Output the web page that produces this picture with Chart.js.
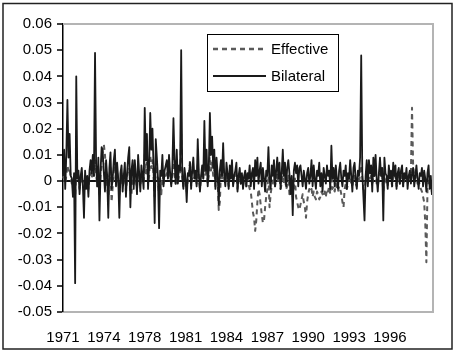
<!DOCTYPE html>
<html>
<head>
<meta charset="utf-8">
<script src="https://cdn.jsdelivr.net/npm/chart.js@4.4.1/dist/chart.umd.min.js"></script>
<style>
  html, body { margin:0; padding:0; background:#fff; }
  #wrap { width:455px; height:351px; }
</style>
</head>
<body>
<div id="wrap"><canvas id="lineChart" width="455" height="351"></canvas></div>
<script>
// monthly series, Nov 1971 onwards
const startYear = 1971
const startMonth = 11
const tickLabels = ['1971','1974','1978','1981','1984','1987','1990','1993','1996']
const tickEvery = 37

const bilateral = [
  0.002, 0.012, -0.003, 0.010, 0.031, 0.009, 0.018, 0.002, 0.001, -0.006, 0.003, -0.039,
  0.040, 0.001, 0.004, -0.005, 0.002, 0.005, -0.002, -0.014, 0.004, -0.003, 0.002, -0.006,
  0.004, 0.008, 0.003, 0.010, 0.002, 0.049, 0.006, -0.002, 0.009, -0.015, 0.004, 0.013,
  0.011, 0.003, -0.004, 0.008, 0.002, -0.014, 0.005, 0.011, -0.003, 0.001, 0.008, 0.012,
  -0.002, 0.007, 0.001, -0.014, 0.003, 0.006, -0.004, 0.002, 0.007, -0.006, 0.003, 0.009,
  0.013, -0.010, 0.004, 0.008, -0.003, 0.008, 0.002, -0.005, 0.010, 0.003, -0.004, 0.006,
  0.002, -0.003, 0.028, 0.008, 0.018, -0.003, 0.006, 0.026, 0.012, 0.020, 0.005, -0.016,
  0.016, 0.009, 0.001, -0.018, 0.004, 0.002, 0.010, -0.002, 0.004, 0.006, 0.008, 0.001,
  0.010, 0.003, -0.002, 0.005, 0.024, 0.008, -0.001, 0.012, -0.001, 0.006, 0.004, 0.050,
  0.002, -0.003, 0.005, 0.001, -0.008, 0.003, 0.002, 0.007, -0.003, 0.004, 0.009, 0.001,
  0.004, -0.002, 0.016, 0.003, -0.004, 0.002, 0.006, 0.001, 0.023, 0.004, 0.012, -0.002,
  0.005, 0.026, 0.010, 0.017, 0.005, 0.012, -0.003, 0.009, 0.003, -0.009, 0.004, 0.008,
  0.002, 0.0145, 0.002, -0.002, 0.007, 0.003, -0.003, 0.006, 0.001, 0.008, -0.002, 0.002,
  0.004, 0.007, -0.004, 0.002, 0.005, -0.001, 0.003, -0.003, 0.002, 0.004, -0.002, 0.003,
  0.001, 0.006, -0.002, 0.003, 0.005, -0.003, 0.008, 0.002, 0.009, -0.001, 0.004, 0.007,
  -0.002, 0.005, 0.001, -0.004, 0.004, 0.002, 0.013, 0.001, -0.003, 0.006, 0.002, 0.008,
  -0.002, 0.004, 0.009, 0.001, 0.007, -0.003, 0.003, 0.012, 0.002, 0.007, -0.002, 0.005,
  0.008, 0.003, -0.005, 0.002, -0.013, 0.004, 0.007, 0.003, 0.006, -0.002, 0.005, 0.006,
  0.002, -0.002, 0.004, 0.001, -0.003, 0.003, 0.005, -0.001, 0.002, 0.008, -0.002, 0.006,
  0.001, -0.003, 0.004, 0.002, 0.007, -0.002, 0.003, -0.004, 0.005, 0.002, -0.001, 0.006,
  0.002, 0.004, -0.003, 0.0135, 0.001, 0.005, -0.002, 0.006, 0.001, -0.003, 0.004, 0.007,
  0.001, -0.002, 0.004, 0.002, 0.006, -0.003, 0.003, 0.001, 0.008, 0.002, -0.004, 0.005,
  0.007, 0.001, -0.003, 0.004, 0.002, 0.009, 0.048, 0.003, -0.006, -0.015, 0.002, 0.008,
  -0.002, 0.008, 0.003, 0.006, -0.004, 0.009, 0.002, 0.010, 0.001, -0.004, 0.003, 0.009,
  0.002, 0.005, -0.015, 0.009, 0.003, 0.002, -0.003, 0.006, 0.001, 0.004, -0.002, 0.007,
  0.002, 0.006, -0.003, 0.003, 0.005, -0.001, 0.004, 0.006, -0.002, 0.003, 0.001, 0.005,
  -0.003, 0.002, 0.004, -0.001, 0.003, 0.005, -0.002, 0.002, 0.006, 0.001, -0.003, 0.003,
  0.002, 0.005, -0.002, 0.004, 0.001, -0.004, 0.003, 0.006, -0.003, 0.002, -0.005, 0.001
]

const effective = [
  0.001, 0.003, -0.001, 0.002, 0.006, 0.004, 0.005, 0.001, -0.001, -0.002, 0.001, -0.006,
  0.004, 0.001, 0.002, -0.003, 0.001, 0.002, -0.001, -0.004, 0.002, -0.002, 0.001, -0.003,
  0.002, 0.003, 0.001, 0.004, 0.002, 0.008, 0.003, -0.002, 0.004, -0.005, 0.002, 0.006,
  0.012, 0.014, 0.010, 0.004, -0.002, -0.006, 0.002, 0.005, -0.008, -0.002, 0.004, 0.006,
  -0.001, 0.003, 0.001, -0.006, 0.001, 0.003, -0.002, 0.001, 0.003, -0.004, 0.001, 0.004,
  0.005, -0.004, -0.005, 0.003, -0.002, 0.003, 0.001, -0.003, 0.004, 0.001, -0.002, 0.002,
  0.001, -0.001, 0.010, 0.003, 0.007, -0.001, 0.002, 0.010, 0.005, 0.008, 0.002, -0.006,
  0.006, 0.003, 0.001, -0.006, 0.001, -0.005, 0.004, -0.001, 0.002, 0.002, 0.003, 0.001,
  0.004, 0.001, -0.001, 0.002, 0.009, 0.003, -0.001, 0.005, -0.001, 0.002, 0.002, 0.018,
  0.001, -0.002, 0.002, 0.001, -0.004, 0.001, 0.002, 0.008, -0.002, 0.002, 0.004, 0.001,
  0.002, -0.001, 0.007, 0.001, -0.003, 0.001, 0.003, 0.001, 0.010, 0.002, 0.005, -0.001,
  0.002, 0.011, 0.004, 0.007, 0.002, 0.005, -0.002, 0.004, 0.001, -0.011, -0.008, 0.003,
  0.001, 0.006, 0.001, -0.001, 0.003, 0.001, -0.002, 0.003, 0.001, 0.003, -0.001, 0.001,
  0.002, 0.003, -0.003, 0.001, 0.002, -0.001, 0.001, -0.002, 0.001, 0.002, -0.002, 0.001,
  -0.001, -0.003, -0.004, -0.008, -0.012, -0.014, -0.019, -0.015, -0.008, -0.003, -0.005, -0.009,
  -0.013, -0.016, -0.015, -0.010, -0.006, -0.003, 0.002, -0.010, -0.005, -0.002, -0.001, 0.002,
  -0.002, 0.001, 0.003, -0.001, 0.002, -0.003, -0.001, 0.004, -0.001, 0.002, -0.003, -0.002,
  0.002, -0.005, -0.004, -0.001, -0.006, -0.002, 0.001, -0.006, -0.008, -0.010, -0.011, -0.009,
  -0.007, -0.005, -0.008, -0.010, -0.014, -0.008, -0.005, -0.003, -0.004, -0.003, -0.006, -0.004,
  -0.006, -0.007, -0.004, -0.005, -0.007, -0.006, -0.004, -0.005, -0.006, -0.004, -0.006, -0.003,
  -0.004, -0.002, -0.005, 0.004, -0.003, -0.002, -0.004, -0.001, -0.003, -0.004, -0.002, -0.003,
  -0.005, -0.008, -0.010, -0.003, -0.001, -0.003, -0.001, 0.001, 0.002, -0.001, -0.002, 0.001,
  0.002, -0.001, -0.002, 0.001, -0.001, 0.003, 0.006, 0.001, -0.003, -0.005, 0.001, 0.002,
  -0.001, 0.002, 0.001, 0.002, -0.002, 0.003, 0.001, 0.003, -0.001, -0.002, 0.001, 0.003,
  0.001, 0.002, -0.004, 0.002, 0.001, -0.001, -0.002, 0.002, 0.001, 0.001, -0.002, 0.002,
  0.001, 0.002, -0.002, 0.001, 0.002, -0.001, 0.001, 0.002, -0.002, 0.001, 0.001, 0.002,
  -0.001, 0.001, 0.002, 0.003, 0.028, 0.006, 0.002, 0.001, 0.002, -0.001, 0.001, -0.002,
  -0.003, -0.004, -0.006, -0.008, -0.016, -0.031, -0.003, -0.001, 0.001, -0.002, -0.004, -0.002
]

const labels = []
for (let i = 0; i < bilateral.length; i++) {
  const m = startMonth - 1 + i
  labels.push((startYear + Math.floor(m / 12)) + '-' + String(m % 12 + 1).padStart(2, '0'))
}

const FONT = '"Liberation Sans", Arial, sans-serif'
const isZero = v => Math.abs(v) < 1e-9

// grey frame on top/right, outer border round the whole picture
const framePlugin = {
  id: 'frame',
  beforeDraw(chart) {
    const c = chart.ctx
    c.save()
    c.fillStyle = '#fff'
    c.fillRect(0, 0, chart.width, chart.height)
    c.strokeStyle = '#222'
    c.lineWidth = 1.5
    c.strokeRect(3, 3.5, 449, 345.5)
    c.restore()
  },
  afterDatasetsDraw(chart) {
    const a = chart.chartArea
    const c = chart.ctx
    c.save()
    c.strokeStyle = '#b4b4b4'
    c.lineWidth = 2
    c.beginPath()
    c.moveTo(a.left, a.top)
    c.lineTo(a.right, a.top)
    c.lineTo(a.right, a.bottom)
    c.stroke()
    c.restore()
  }
}

// boxed legend inside the plot
const boxLegend = {
  id: 'boxLegend',
  afterDraw(chart) {
    const c = chart.ctx
    const x = 207.5, y = 34.5, w = 131, h = 57
    c.save()
    c.fillStyle = '#fff'
    c.fillRect(x, y, w, h)
    c.strokeStyle = '#000'
    c.lineWidth = 1
    c.strokeRect(x, y, w, h)
    c.font = '15px ' + FONT
    c.textBaseline = 'middle'
    chart.data.datasets.forEach((ds, i) => {
      const ly = 49 + i * 27
      c.strokeStyle = ds.borderColor
      c.lineWidth = ds.legendWidth
      c.setLineDash(ds.borderDash || [])
      c.beginPath()
      c.moveTo(213, ly)
      c.lineTo(266, ly)
      c.stroke()
      c.setLineDash([])
      c.fillStyle = '#000'
      c.fillText(ds.label, 271, ly + 1)
    })
    c.restore()
  }
}

new Chart(document.getElementById('lineChart'), {
  type: 'line',
  data: {
    labels: labels,
    datasets: [
      { label:'Effective', data: effective, borderColor:'#5a5a5a', borderWidth:2, borderDash:[5,4],
        legendWidth:2.5, pointRadius:0, tension:0, borderJoinStyle:'round', order:1 },
      { label:'Bilateral', data: bilateral, borderColor:'#1a1a1a', borderWidth:1.8,
        legendWidth:2, pointRadius:0, tension:0, borderJoinStyle:'round', order:0 }
    ]
  },
  options: {
    responsive: false,
    animation: false,
    layout: { padding: { top:24, right:22, left:0, bottom:0 } },
    plugins: { legend: { display:false }, tooltip: { enabled:false } },
    scales: {
      x: {
        grid: { display:false },
        border: { display:true, color:'#b4b4b4', width:2 },
        ticks: {
          autoSkip:false, maxRotation:0, padding:9, color:'#000',
          font: { family: FONT, size:15 },
          callback: (v, i) => i % tickEvery === 0 ? tickLabels[i / tickEvery] : null
        },
        afterFit: s => { s.height = 39 }
      },
      y: {
        min: -0.05, max: 0.06,
        grid: {
          drawOnChartArea:true, drawTicks:true, tickLength:6,
          color: ctx => isZero(ctx.tick.value) ? '#111' : 'rgba(0,0,0,0)',
          lineWidth: ctx => isZero(ctx.tick.value) ? 2 : 0,
          tickColor:'#000', tickWidth:1.5
        },
        border: { display:true, color:'#000', width:1.5 },
        ticks: {
          stepSize:0.01, padding:5, color:'#000',
          font: { family: FONT, size:15 },
          callback: v => isZero(v) ? '0' : v.toFixed(2)
        },
        afterFit: s => { s.width = 63 }
      }
    }
  },
  plugins: [framePlugin, boxLegend]
})
</script>
</body>
</html>
